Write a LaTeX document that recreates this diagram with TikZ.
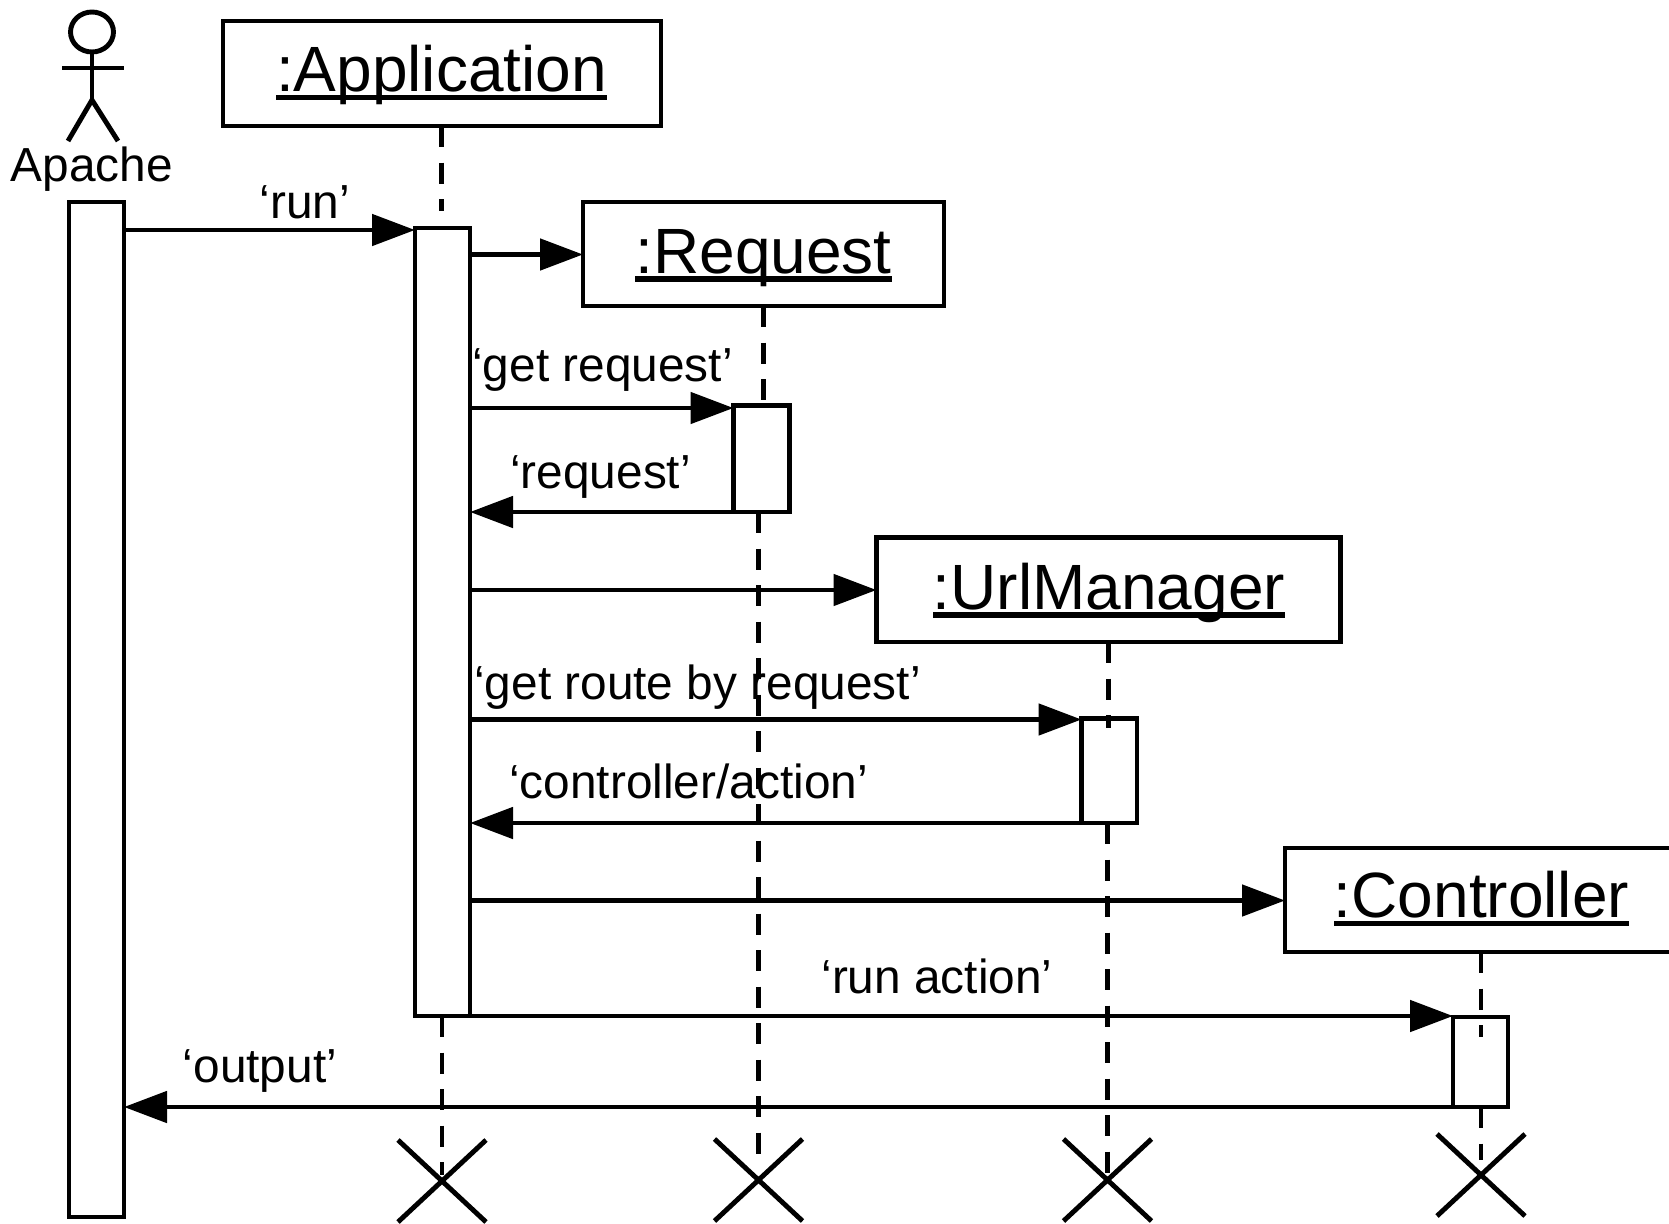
\documentclass[tikz,border=0pt]{standalone}
\usepackage{fontspec}
\setmainfont{Liberation Sans}
\usetikzlibrary{arrows.meta,shapes.misc,shapes.geometric}
\newcommand{\objul}[1]{\setbox0=\hbox{#1}\leavevmode\rlap{\raisebox{-8.5pt}{\rule{\wd0}{5.5pt}}}\box0}
\tikzset{
  x=1pt,y=-1pt,
  objbox/.style={draw,line width=4.9pt,inner sep=0pt,outer sep=0pt,font=\fontsize{64}{64}\selectfont},
  objtext/.style={anchor=base,inner sep=0pt,outer sep=0pt,font=\fontsize{64}{64}\selectfont},
  actbar/.style={draw,line width=4.9pt,inner sep=0pt,outer sep=0pt},
  msg/.style={line width=4.9pt,-{Triangle[length=43pt,width=31pt]},shorten <=-2pt},
  lifeline/.style={line width=4.9pt,dash pattern=on 21pt off 15.5pt},
  kill/.style={cross out,draw,line width=4.9pt,inner sep=0pt,outer sep=0pt,minimum width=88pt,minimum height=82pt},
  lbl/.style={anchor=base,inner sep=0pt,outer sep=0pt,font=\fontsize{47.8}{48}\selectfont},
  stick/.style={line width=4.9pt},
}
\begin{document}
\begin{tikzpicture}
\useasboundingbox (0,0) rectangle (1669,1223);
\clip (0,0) rectangle (1669,1223);
% actor
\node[draw,ellipse,line width=4.9pt,inner sep=0pt,outer sep=0pt,minimum width=43pt,minimum height=40pt] (head) at (92,32) {};
\coordinate (hip) at (92,100);
\coordinate (armL) at (62,68);
\coordinate (armR) at (124,68);
\coordinate (legL) at (68,141);
\coordinate (legR) at (118,141);
\draw[stick] (head.south) -- (hip);
\draw[stick] (armL) -- (armR);
\draw[stick] (legL) -- (hip) -- (legR);
\node[lbl] (apache) at (92,181.5) {Apache};
% object boxes
\node[objbox,minimum width=438pt,minimum height=105pt] (appbox) at (442,73.5) {};
\node[objtext] (apptxt) at (441.5,92) {\objul{:Application}};
\node[objbox,minimum width=361pt,minimum height=104pt] (reqbox) at (763.5,254) {};
\node[objtext] (reqtxt) at (763.5,273) {\objul{:Request}};
\node[objbox,minimum width=464pt,minimum height=104.5pt] (urlbox) at (1108.5,589.75) {};
\node[objtext] (urltxt) at (1109,609) {\objul{:UrlManager}};
\node[objbox,minimum width=392pt,minimum height=104pt] (ctlbox) at (1481,900) {};
\node[objtext] (ctltxt) at (1481.5,917.5) {\objul{:Controller}};
% activation bars
\node[actbar,minimum width=55pt,minimum height=1015pt] (apachebar) at (96.5,709.5) {};
\node[actbar,minimum width=55pt,minimum height=788pt] (appbar) at (442.5,622) {};
\node[actbar,minimum width=56pt,minimum height=106.5pt] (reqact) at (761.5,458.75) {};
\node[actbar,minimum width=55.5pt,minimum height=104.5pt] (urlact) at (1109.25,770.75) {};
\node[actbar,minimum width=55pt,minimum height=90pt] (ctlact) at (1480.5,1062) {};
% destruction marks
\node[kill] (appx) at (442,1181) {};
\node[kill] (reqx) at (758.5,1180) {};
\node[kill] (urlx) at (1107.5,1180) {};
\node[kill] (ctlx) at (1481,1175) {};
% lifelines
\draw[lifeline] (appbox.south -| apptxt.base) -- ([yshift=17pt]appbar.north -| apptxt.base);
\draw[lifeline] (appx.center |- appbar.south) -- ([yshift=6pt]appx.center);
\draw[lifeline] (reqbox.south) -- (reqbox.south |- reqact.north);
\draw[lifeline] (reqx.center |- reqact.south) -- ([yshift=20pt]reqx.center);
\draw[lifeline] (urlbox.south) -- ([yshift=-9pt]urlbox.south |- urlact.north);
\draw[lifeline] (urlx.center |- urlact.south) -- (urlx.center);
\draw[lifeline] (ctlbox.south) -- ([yshift=-20pt]ctlbox.south |- ctlact.north);
\draw[lifeline] (ctlx.center |- ctlact.south) -- ([yshift=15pt]ctlx.center);
% message levels
\coordinate (yrun) at (0,230);
\coordinate (yreq) at (0,254.5);
\coordinate (yget) at (0,408);
\coordinate (yans) at (0,512);
\coordinate (yurl) at (0,590);
\coordinate (yroute) at (0,719.5);
\coordinate (yca) at (0,823);
\coordinate (yctl) at (0,900.5);
\coordinate (yact) at (0,1016);
\coordinate (yout) at (0,1107);
% messages
\draw[msg] (apachebar.east |- yrun) -- (appbar.west |- yrun);
\draw[msg] (appbar.east |- yreq) -- (reqbox.west |- yreq);
\draw[msg] (appbar.east |- yget) -- (reqact.west |- yget);
\draw[msg] (reqact.west |- yans) -- (appbar.east |- yans);
\draw[msg] (appbar.east |- yurl) -- (urlbox.west |- yurl);
\draw[msg] (appbar.east |- yroute) -- (urlact.west |- yroute);
\draw[msg] (urlact.west |- yca) -- (appbar.east |- yca);
\draw[msg] (appbar.east |- yctl) -- (ctlbox.west |- yctl);
\draw[msg] (appbar.east |- yact) -- (ctlact.west |- yact);
\draw[msg] (ctlact.west |- yout) -- (apachebar.east |- yout);
% labels
\node[lbl] (l1) at (305,218.5) {‘run’};
\node[lbl] (l2) at (602.5,381) {‘get request’};
\node[lbl] (l3) at (600.5,488.5) {‘request’};
\node[lbl] (l4) at (697.5,699) {‘get route by request’};
\node[lbl] (l5) at (688.5,798.5) {‘controller/action’};
\node[lbl] (l6) at (937,993.5) {‘run action’};
\node[lbl] (l7) at (260,1082.5) {‘output’};
\end{tikzpicture}
\end{document}
